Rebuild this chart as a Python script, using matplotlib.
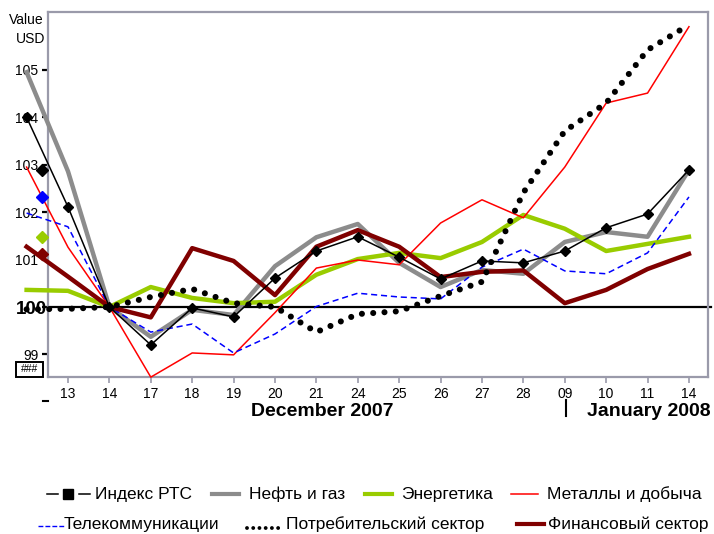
import matplotlib
matplotlib.use('Agg')
import matplotlib.pyplot as plt
from matplotlib.lines import Line2D
from matplotlib.patches import Rectangle
import numpy as np

plt.rcParams['font.family'] = ['Liberation Sans', 'DejaVu Sans']

# ---- data ----
categories = ['12', '13', '14', '17', '18', '19', '20', '21', '24', '25', '26',
              '27', '28', '09', '10', '11', '14']
rts = [104.0, 102.11, 100, 99.2, 99.98, 99.79, 100.61, 101.18, 101.48, 101.05,
       100.59, 100.97, 100.93, 101.18, 101.67, 101.96, 102.89]
oil_gas = [104.95, 102.86, 100, 99.37, 99.94, 99.83, 100.86, 101.47, 101.75, 100.93,
           100.42, 100.78, 100.70, 101.37, 101.58, 101.48, 102.89]
energy = [100.36, 100.34, 100, 100.42, 100.19, 100.08, 100.11, 100.68, 101.01, 101.14,
          101.03, 101.37, 101.94, 101.65, 101.18, 101.33, 101.48]
metals = [102.95, 101.26, 100, 98.52, 99.03, 98.99, 99.88, 100.82, 100.99, 100.89,
          101.77, 102.26, 101.88, 102.95, 104.30, 104.51, 105.91]
telecom = [101.98, 101.69, 100, 99.47, 99.64, 99.03, 99.43, 100.01, 100.29, 100.21,
           100.17, 100.84, 101.22, 100.76, 100.70, 101.14, 102.32]
consumer = [99.95, 99.96, 100, 100.21, 100.38, 100.08, 100.0, 99.47, 99.85, 99.91,
            100.23, 100.53, 102.41, 103.71, 104.30, 105.42, 105.95]
finance = [101.27, 100.64, 100, 99.78, 101.24, 100.97, 100.25, 101.27, 101.62, 101.27,
           100.63, 100.74, 100.77, 100.08, 100.36, 100.80, 101.12]

legend_labels = ['Индекс РТС', 'Нефть и газ', 'Энергетика', 'Металлы и добыча',
                 'Телекоммуникации', 'Потребительский сектор', 'Финансовый сектор']
y_ticks = [99, 100, 101, 102, 103, 104, 105]
month_labels = ['December 2007', 'January 2008']

W, H = 714, 534
fig = plt.figure(figsize=(W / 100, H / 100), dpi=100)

def fx(px):
    return px / W

def fy(py):
    return 1 - py / H

L, R, T, B = 48, 708, 12, 377
ax = fig.add_axes([fx(L), fy(B), fx(R) - fx(L), fy(T) - fy(B)])

x = np.arange(len(categories)) - 1

c_gray = '#8c8c8c'
c_green = '#99cc00'
c_red = '#ff0000'
c_blue = '#0000ff'
c_dred = '#800000'

ax.axhline(100, color='black', lw=1.6, zorder=2, clip_on=False, xmax=1.004)

ax.plot(x, oil_gas, color=c_gray, lw=3.2, zorder=3, clip_on=False)
ax.plot(x, energy, color=c_green, lw=3.2, zorder=3, clip_on=False)
ax.plot(x, metals, color=c_red, lw=1.1, zorder=4, clip_on=False)
ax.plot(x, telecom, color=c_blue, lw=1.1, ls=(0, (4, 2.5)), zorder=4, clip_on=False)
ax.plot(x, finance, color=c_dred, lw=3.2, zorder=5, clip_on=False)
ax.plot(x, rts, color='black', lw=1.1, marker='D', ms=5.5, zorder=6, clip_on=False)
ax.plot(x, consumer, color='black', lw=4.4, ls=(0, (0.001, 1.85)),
        dash_capstyle='round', zorder=7, clip_on=False)

# end-value markers next to the value axis
xm = -0.63
for vals, col in [(rts, 'black'), (telecom, c_blue), (energy, c_green), (finance, c_dred)]:
    ax.plot([xm], [vals[-1]], marker='D', ms=6.5, color=col, clip_on=False, zorder=8, lw=0)

ax.set_xlim(-0.483, 15.46)
ax.set_ylim(98.523, 106.22)

for s in ax.spines.values():
    s.set_color('#9a9aaa')
    s.set_linewidth(1.6)

ax.set_xticks(x[1:])
ax.set_xticklabels(categories[1:], fontsize=10)
ax.tick_params(axis='x', direction='out', length=4, width=1.2, color='#9a9aaa', pad=3)

ax.set_yticks(y_ticks)
ax.set_yticklabels([str(v) if v != 100 else '' for v in y_ticks], fontsize=10)
ax.tick_params(axis='y', direction='out', length=4, width=1.6, color='black', pad=3)

# bold "100" label
fig.text(fx(47), fy(310), '100', fontsize=13.5, fontweight='bold',
         ha='right', va='center')

fig.text(fx(44), fy(20), 'Value', fontsize=10, ha='right', va='center')
fig.text(fx(45), fy(39), 'USD', fontsize=10, ha='right', va='center')

# "###" box
fig.patches.append(Rectangle((fx(16), fy(377)), fx(43) - fx(16), fy(362) - fy(377),
                             transform=fig.transFigure, fill=False, ec='black', lw=1.4))
fig.text(fx(30), fy(369.5), '###', fontsize=7.5, ha='center', va='center')
fig.lines.append(Line2D([fx(43), fx(48)], [fy(401), fy(401)], transform=fig.transFigure,
                        color='black', lw=1.5))

fig.text(fx(322), fy(411), month_labels[0], fontsize=14, fontweight='bold',
         ha='center', va='center')
fig.text(fx(649), fy(411), month_labels[1], fontsize=14, fontweight='bold',
         ha='center', va='center')
fig.lines.append(Line2D([fx(566), fx(566)], [fy(400), fy(416)], transform=fig.transFigure,
                        color='black', lw=1.5))

# legend (manual)
def key(x0, x1, y, **kw):
    fig.lines.append(Line2D([fx(x0), fx(x1)], [fy(y), fy(y)], transform=fig.transFigure, **kw))

def label(xp, y, s):
    fig.text(fx(xp), fy(y), s, fontsize=12.5, ha='left', va='center')

y1, y2 = 494, 524
key(47, 58, y1, color='black', lw=1.1)
key(79, 90, y1, color='black', lw=1.1)
fig.lines.append(Line2D([fx(68)], [fy(y1)], transform=fig.transFigure, marker='s', ms=6.5,
                        color='black', lw=0))
label(95, y1, legend_labels[0])
key(212, 239, y1, color=c_gray, lw=3.0)
label(249, y1, legend_labels[1])
key(365, 392, y1, color=c_green, lw=3.0)
label(401, y1, legend_labels[2])
key(511, 538, y1, color=c_red, lw=1.1)
label(547, y1, legend_labels[3])

key(38, 64, y2 + 2, color=c_blue, lw=1.0, ls=(0, (3.5, 1.5)))
label(64, y2, legend_labels[4])
key(247, 284, y2 + 4, color='black', lw=2.8, ls=(0, (0.001, 1.6)), dash_capstyle='round')
label(286, y2, legend_labels[5])
key(517, 544, y2, color=c_dred, lw=3.0)
label(548, y2, legend_labels[6])

fig.savefig('out.png', dpi=100)
